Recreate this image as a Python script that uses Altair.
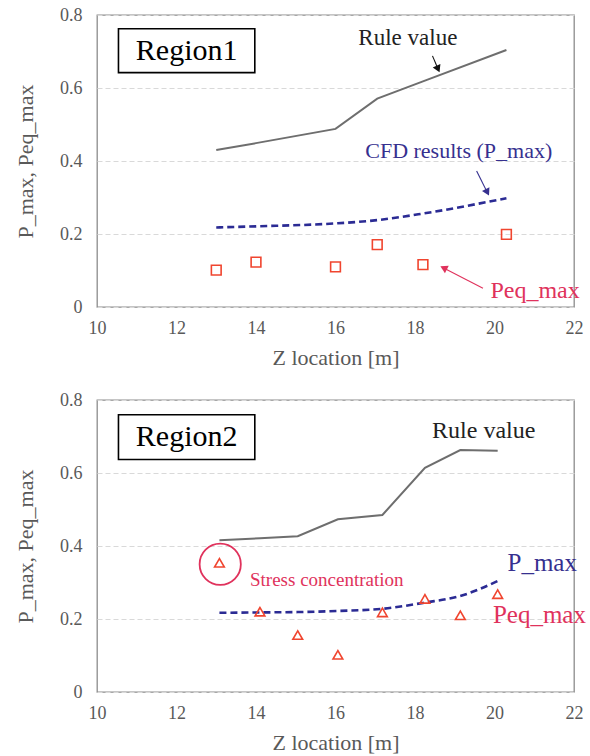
import altair as alt
import pandas as pd

FONT = "Times New Roman"

# ---------------- data ----------------
# Region 1
r1_z = [13.0, 14.0, 16.0, 17.05, 18.2, 20.3]
r1_rule = [0.43, 0.449, 0.488, 0.571, 0.618, 0.704]
r1_cfd = [0.218, 0.221, 0.229, 0.238, 0.256, 0.298]
r1_peq = [0.101, 0.123, 0.110, 0.171, 0.116, 0.199]

# Region 2
r2_z = [13.08, 14.1, 15.05, 16.06, 17.18, 18.25, 19.14, 20.08]
r2_rule = [0.416, 0.421, 0.427, 0.473, 0.485, 0.614, 0.663, 0.661]
r2_cfd = [0.217, 0.218, 0.219, 0.222, 0.228, 0.245, 0.263, 0.304]
r2_peq = [0.354, 0.220, 0.156, 0.102, 0.218, 0.255, 0.210, 0.268]

x_ticks = [10, 12, 14, 16, 18, 20, 22]
y_ticks = [0, 0.2, 0.4, 0.6, 0.8]

# annotations (data coordinates)
r1_labels = ["Rule value", "CFD results (P_max)", "Peq_max"]
r1_label_x = [17.82, 19.10, 21.02]
r1_label_y = [0.737, 0.427, 0.044]
r1_label_col = ["#222222", "#36308f", "#e0325c"]
r1_label_size = [23, 22, 24]

r1_arrow_x = [18.44, 19.55, 19.71]
r1_arrow_y = [0.688, 0.3726, 0.0512]
r1_arrow_x2 = [18.58, 19.82, 18.72]
r1_arrow_y2 = [0.652, 0.314, 0.107]
r1_arrow_angle = [156, 153, 297]
r1_arrow_col = ["#111111", "#36308f", "#e0325c"]

r2_labels = ["Rule value", "P_max", "Peq_max", "Stress concentration"]
r2_label_x = [19.73, 21.2, 21.13, 15.78]
r2_label_y = [0.714, 0.353, 0.211, 0.307]
r2_label_col = ["#222222", "#36308f", "#e0325c", "#e0325c"]
r2_label_size = [24, 25, 25, 19]

r2_circle_x = [13.10]
r2_circle_y = [0.350]

box_x, box_x2 = 10.54, 13.97
r1_box = dict(y=0.7625, y2=0.642, ty=0.701, label="Region1")
r2_box = dict(y=0.7596, y2=0.637, ty=0.698, label="Region2")

LABEL_GRAY = "#595959"


def xenc(field):
    return alt.X(field, type="quantitative",
                 scale=alt.Scale(domain=[10, 22], nice=False, zero=False),
                 axis=alt.Axis(values=x_ticks, title="Z location [m]", grid=False,
                               ticks=False, domain=False, labelFlush=False,
                               labelFont=FONT, labelFontSize=18,
                               labelColor=LABEL_GRAY, labelPadding=12,
                               titleFont=FONT, titleFontSize=22,
                               titleFontWeight="normal", titleColor=LABEL_GRAY,
                               titlePadding=10))


def yenc(field):
    return alt.Y(field, type="quantitative",
                 scale=alt.Scale(domain=[0, 0.8], nice=False),
                 axis=alt.Axis(values=y_ticks, title="P_max, Peq_max", grid=True,
                               gridColor="#d9d9d9", gridDash=[5, 3], gridWidth=1,
                               ticks=False, domain=False, format="~g",
                               labelFont=FONT, labelFontSize=18,
                               labelColor=LABEL_GRAY, labelPadding=15,
                               titleFont=FONT, titleFontSize=22,
                               titleFontWeight="normal", titleColor=LABEL_GRAY,
                               titlePadding=22))


def panel(z, rule, cfd, peq, shape, labels, lx, ly, lcol, lsize, box,
          arrows=None, circle=None):
    df = pd.DataFrame({"z": z, "rule": rule, "cfd": cfd, "peq": peq})
    base = alt.Chart(df)
    rule_line = base.mark_line(color="#6e6e6e", strokeWidth=2).encode(
        x=xenc("z"), y=yenc("rule"))
    cfd_line = base.mark_line(color="#2b2b94", strokeWidth=2.6,
                              strokeDash=[7, 4], interpolate="monotone").encode(
        x=xenc("z"), y=yenc("cfd"))
    pts = base.mark_point(shape=shape, size=95, filled=False, color="#f0452f",
                          strokeWidth=1.6, opacity=1).encode(
        x=xenc("z"), y=yenc("peq"))

    layers = [rule_line, cfd_line, pts]

    bdf = pd.DataFrame({"x": [box_x], "x2": [box_x2], "y": [box["y"]],
                        "y2": [box["y2"]], "tx": [(box_x + box_x2) / 2],
                        "ty": [box["ty"]], "t": [box["label"]]})
    brect = alt.Chart(bdf).mark_rect(fill="white", stroke="black",
                                     strokeWidth=1.6).encode(
        x=xenc("x"), x2="x2", y=yenc("y"), y2="y2")
    btext = alt.Chart(bdf).mark_text(font=FONT, fontSize=30, color="black",
                                     align="center", baseline="middle").encode(
        x=xenc("tx"), y=yenc("ty"), text="t:N")
    layers += [brect, btext]

    # one text layer per annotation label, each with its own font size/colour
    for t, x, y, c, s in zip(labels, lx, ly, lcol, lsize):
        ldf = pd.DataFrame({"x": [x], "y": [y], "t": [t]})
        layers.append(alt.Chart(ldf).mark_text(
            font=FONT, fontSize=s, color=c, align="center",
            baseline="middle").encode(x=xenc("x"), y=yenc("y"), text="t:N"))

    if arrows is not None:
        adf = pd.DataFrame(arrows)
        arule = alt.Chart(adf).mark_rule(strokeWidth=1.1).encode(
            x=xenc("x"), y=yenc("y"), x2="x2", y2="y2",
            color=alt.Color("c:N", scale=None))
        ahead = alt.Chart(adf).mark_point(shape="triangle-up", filled=True,
                                          size=70, opacity=1).encode(
            x=xenc("x2"), y=yenc("y2"), angle=alt.Angle("a:Q", scale=None),
            color=alt.Color("c:N", scale=None))
        layers += [arule, ahead]

    if circle is not None:
        cdf = pd.DataFrame(circle)
        circ = alt.Chart(cdf).mark_point(shape="circle", size=1700, filled=False,
                                         color="#e0325c", strokeWidth=1.8,
                                         opacity=1).encode(
            x=xenc("x"), y=yenc("y"))
        layers.append(circ)

    return alt.layer(*layers).properties(
        width=477, height=292,
        view=alt.ViewBackground(stroke="#8c8c8c", strokeWidth=1.3))


top = panel(r1_z, r1_rule, r1_cfd, r1_peq, "square", r1_labels, r1_label_x,
            r1_label_y, r1_label_col, r1_label_size, r1_box,
            arrows={"x": r1_arrow_x, "y": r1_arrow_y, "x2": r1_arrow_x2,
                    "y2": r1_arrow_y2, "a": r1_arrow_angle, "c": r1_arrow_col})
bottom = panel(r2_z, r2_rule, r2_cfd, r2_peq, "triangle-up", r2_labels,
               r2_label_x, r2_label_y, r2_label_col, r2_label_size, r2_box,
               circle={"x": r2_circle_x, "y": r2_circle_y})

chart = alt.vconcat(top, bottom, spacing=93, bounds="flush").properties(
    padding={"left": 13, "top": 5, "right": 0, "bottom": 0},
)

chart.save("out.html", embed_options={"renderer": "svg", "actions": False})
